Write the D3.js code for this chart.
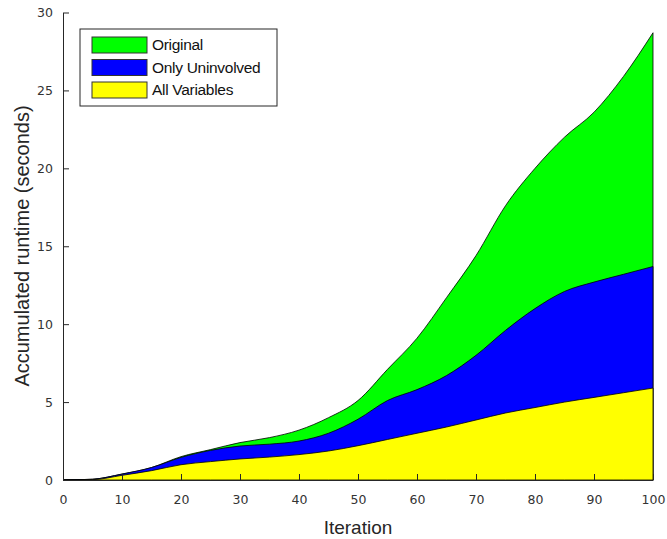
<!DOCTYPE html>
<html>
<head>
<meta charset="utf-8">
<script src="https://cdn.jsdelivr.net/npm/d3@7"></script>
<style>
  body { margin: 0; background: #fff; }
  svg { display: block; }
</style>
</head>
<body>
<svg id="chart" width="667" height="539"></svg>
<script>
// iterations sampled every 5
const iterations = [0, 5, 10, 15, 20, 25, 30, 35, 40, 45, 50, 55, 60, 65, 70, 75, 80, 85, 90, 95, 100];

// accumulated runtime (seconds) of each method
const original = [0, 0.05, 0.38, 0.8, 1.5, 1.95, 2.4, 2.72, 3.2, 4.0, 5.1, 7.1, 9.1, 11.7, 14.4, 17.6, 20.0, 22.0, 23.6, 25.9, 28.7];
const onlyUninvolved = [0, 0.05, 0.38, 0.8, 1.45, 1.9, 2.18, 2.3, 2.5, 3.0, 3.9, 5.1, 5.8, 6.7, 8.0, 9.6, 11.0, 12.1, 12.7, 13.2, 13.7];
const allVariables = [0, 0.02, 0.3, 0.6, 0.98, 1.18, 1.35, 1.47, 1.63, 1.86, 2.2, 2.6, 3.0, 3.4, 3.85, 4.3, 4.65, 5.0, 5.3, 5.6, 5.9];

const seriesNames = ['Original', 'Only Uninvolved', 'All Variables'];
const seriesColors = ['#00ff00', '#0000ff', '#ffff00'];
const seriesValues = [original, onlyUninvolved, allVariables];

const xTicks = [0, 10, 20, 30, 40, 50, 60, 70, 80, 90, 100];
const yTicks = [0, 5, 10, 15, 20, 25, 30];

const svg = d3.select('#chart'),
  margin = { top: 12.5, right: 14, bottom: 59, left: 63 },
  width = 667 - margin.left - margin.right,
  height = 539 - margin.top - margin.bottom;

const x = d3.scaleLinear().domain([0, 100]).range([0, width]);
const y = d3.scaleLinear().domain([0, 30]).range([height, 0]);

const g = svg.append('g')
  .attr('transform', `translate(${margin.left},${margin.top})`);

const area = d3.area()
  .x((d, i) => x(iterations[i]))
  .y0(y(0))
  .y1((d) => y(d))
  .curve(d3.curveMonotoneX);

// biggest first so the smaller ones sit on top
g.selectAll('.area')
  .data(seriesValues)
  .enter()
  .append('path')
  .attr('class', 'area')
  .attr('d', (d) => area(d))
  .attr('fill', (d, i) => seriesColors[i])
  .attr('stroke', '#000')
  .attr('stroke-width', 0.8)
  .attr('stroke-linejoin', 'round');

const tickColor = '#333';

// axes, ticks pointing inwards
const xAxis = g.append('g')
  .attr('transform', `translate(0,${height})`)
  .call(d3.axisBottom(x).tickValues(xTicks).tickSize(-6).tickPadding(15).tickSizeOuter(0));

const yAxis = g.append('g')
  .call(d3.axisLeft(y).tickValues(yTicks).tickSize(-6).tickPadding(10).tickSizeOuter(0));

[xAxis, yAxis].forEach((ax) => {
  ax.select('.domain').attr('stroke', '#262626').attr('stroke-width', 1);
  ax.selectAll('.tick line').attr('stroke', '#262626').attr('stroke-width', 1);
  ax.selectAll('.tick text')
    .attr('fill', tickColor)
    .style('font-family', '"DejaVu Sans", sans-serif')
    .style('font-size', '12.5px');
});

svg.append('text')
  .attr('x', margin.left + width / 2)
  .attr('y', 534)
  .attr('text-anchor', 'middle')
  .attr('fill', '#262626')
  .style('font-family', '"Liberation Sans", Arial, sans-serif')
  .style('font-size', '19px')
  .text('Iteration');

svg.append('text')
  .attr('transform', 'translate(29,246) rotate(-90)')
  .attr('text-anchor', 'middle')
  .attr('fill', '#262626')
  .style('font-family', '"Liberation Sans", Arial, sans-serif')
  .style('font-size', '20px')
  .text('Accumulated runtime (seconds)');

// legend
const legend = svg.append('g').attr('transform', 'translate(80,29)');
legend.append('rect')
  .attr('width', 197).attr('height', 77)
  .attr('fill', '#fff')
  .attr('stroke', '#262626').attr('stroke-width', 1);

const item = legend.selectAll('.item')
  .data(seriesNames)
  .enter()
  .append('g')
  .attr('class', 'item')
  .attr('transform', (d, i) => `translate(12,${8 + i * 22.5})`);

item.append('rect')
  .attr('width', 55).attr('height', 16)
  .attr('fill', (d, i) => seriesColors[i])
  .attr('stroke', '#333').attr('stroke-width', 1);

item.append('text')
  .attr('x', 60)
  .attr('y', 8)
  .attr('dy', '0.35em')
  .attr('fill', '#111')
  .style('font-family', '"Liberation Sans", Arial, sans-serif')
  .style('font-size', '15.5px')
  .style('letter-spacing', '-0.3px')
  .text((d) => d);
</script>
</body>
</html>
